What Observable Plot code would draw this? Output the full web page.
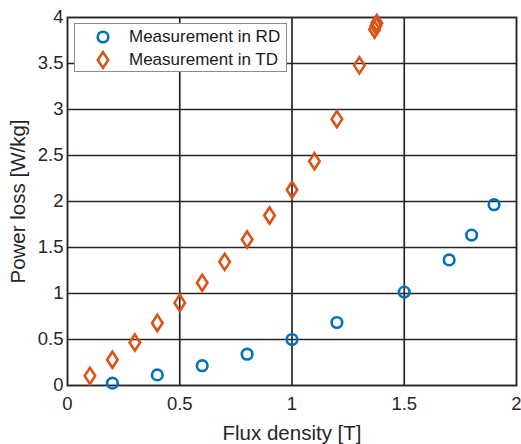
<!DOCTYPE html>
<html>
<head>
<meta charset="utf-8">
<script src="https://cdn.jsdelivr.net/npm/d3@7"></script>
<script src="https://cdn.jsdelivr.net/npm/@observablehq/plot@0.6"></script>
<style>
  body { margin: 0; background: #fff; }
  #wrap { position: relative; width: 521px; height: 444px; font-family: "Liberation Sans", Arial, sans-serif; }
  #legend { position: absolute; left: 74px; top: 23px; width: 213px; height: 49px; background: #fff;
            border: 1px solid #8c8c8c; box-sizing: border-box; font-size: 17px; color: #1a1a1a; }
  .row { position: absolute; left: 0; height: 22px; display: flex; align-items: center; }
  .row svg { position: absolute; left: 21px; }
  .row span { position: absolute; left: 54px; white-space: nowrap; }
</style>
</head>
<body>
<div id="wrap"></div>
<script>
const rdFlux = [0.2, 0.4, 0.6, 0.8, 1.0, 1.2, 1.5, 1.7, 1.8, 1.9];
const rdLoss = [0.025, 0.115, 0.215, 0.34, 0.50, 0.685, 1.015, 1.365, 1.635, 1.965];
const tdFlux = [0.1, 0.2, 0.3, 0.4, 0.5, 0.6, 0.7, 0.8, 0.9, 1.0, 1.1, 1.2, 1.3, 1.368, 1.374, 1.378];
const tdLoss = [0.105, 0.28, 0.467, 0.68, 0.898, 1.116, 1.344, 1.587, 1.848, 2.127, 2.438, 2.895, 3.48, 3.87, 3.91, 3.94];
const xTicks = [0, 0.5, 1, 1.5, 2];
const yTicks = [0, 0.5, 1, 1.5, 2, 2.5, 3, 3.5, 4];
const seriesNames = ["Measurement in RD", "Measurement in TD"];
const colors = ["#0072BD", "#D95319"];

const rd = rdFlux.map((x, i) => ({x, y: rdLoss[i]}));
const td = tdFlux.map((x, i) => ({x, y: tdLoss[i]}));

const tallDiamond = {
  draw(ctx, size) {
    const r = Math.sqrt(size / Math.PI);
    const w = r * 0.85, h = r * 1.3;
    ctx.moveTo(0, -h); ctx.lineTo(w, 0); ctx.lineTo(0, h); ctx.lineTo(-w, 0); ctx.closePath();
  }
};

const gridColor = "#262626";
const chart = Plot.plot({
  width: 521,
  height: 444,
  marginLeft: 67,
  marginRight: 5,
  marginTop: 17,
  marginBottom: 59,
  style: {fontFamily: "'Liberation Sans', Arial, sans-serif", fontSize: "18.5px", color: "#262626", background: "#fff"},
  x: {domain: [0, 2]},
  y: {domain: [0, 4]},
  marks: [
    Plot.ruleX(xTicks.slice(1, -1), {stroke: gridColor, strokeWidth: 1.7}),
    Plot.ruleY(yTicks.slice(1, -1), {stroke: gridColor, strokeWidth: 1.7}),
    Plot.frame({stroke: gridColor, strokeWidth: 1.9}),
    Plot.axisX({ticks: xTicks, tickFormat: d => String(d), tickSize: 0, tickPadding: 11, fontSize: 18.5,
      label: "Flux density [T]", labelAnchor: "center", labelArrow: "none", labelOffset: 54}),
    Plot.axisY({ticks: yTicks, tickFormat: d => String(d), tickSize: 0, tickPadding: 4, fontSize: 18.5,
      label: "Power loss [W/kg]", labelAnchor: "center", labelArrow: "none", labelOffset: 57}),
    Plot.dot(rd, {x: "x", y: "y", r: 5.3, stroke: colors[0], strokeWidth: 2.6, fill: "none"}),
    Plot.dot(td, {x: "x", y: "y", r: 6.2, symbol: tallDiamond, stroke: colors[1], strokeWidth: 2.6, fill: "none"})
  ]
});
chart.querySelectorAll("g[aria-label='x-axis label'] text, g[aria-label='y-axis label'] text").forEach(t => t.setAttribute("font-size", "20.5"));

const wrap = document.getElementById("wrap");
wrap.appendChild(chart);

const legend = document.createElement("div");
legend.id = "legend";
const markers = [
  `<svg width="14" height="20" viewBox="-7 -10 14 20"><circle r="5.3" fill="none" stroke="${colors[0]}" stroke-width="2.6"/></svg>`,
  `<svg width="14" height="20" viewBox="-7 -10 14 20"><path d="M0,-7.9L5.2,0L0,7.9L-5.2,0Z" fill="none" stroke="${colors[1]}" stroke-width="2.6"/></svg>`
];
seriesNames.forEach((name, i) => {
  const row = document.createElement("div");
  row.className = "row";
  row.style.top = (2 + i * 23) + "px";
  row.innerHTML = markers[i] + `<span>${name}</span>`;
  legend.appendChild(row);
});
wrap.appendChild(legend);
</script>
</body>
</html>
